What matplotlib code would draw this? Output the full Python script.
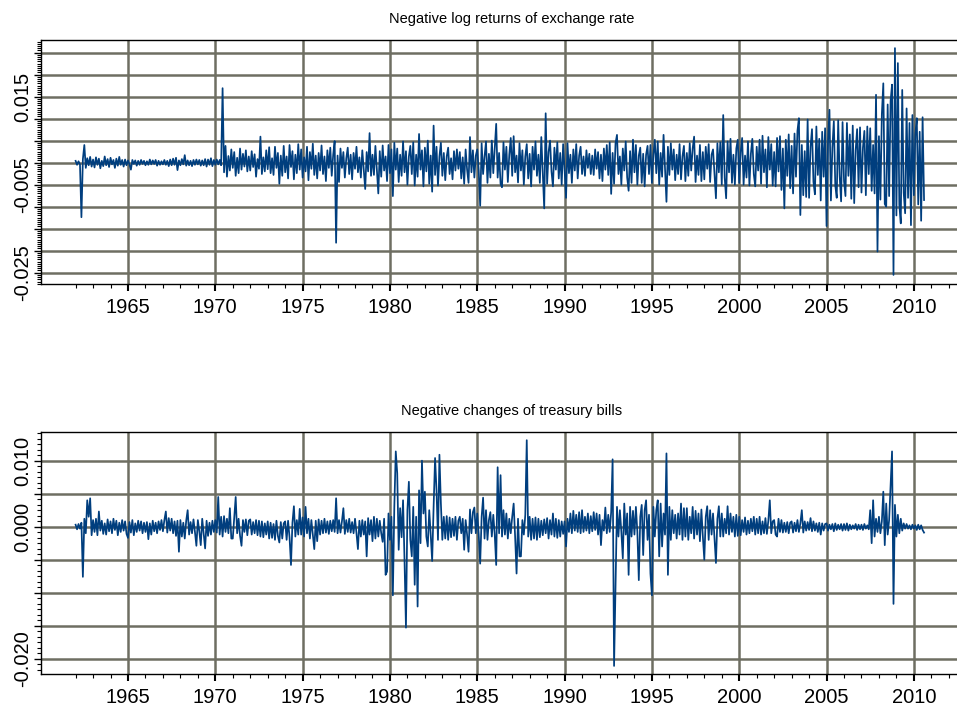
import matplotlib
matplotlib.use('Agg')

import matplotlib.pyplot as plt
import numpy as np
from matplotlib.ticker import FixedLocator, FuncFormatter, AutoMinorLocator

# Monthly series starting January 1962, values in units of 1e-3
START_YEAR = 1962.0
STEP = 1.0 / 12

fx_1962_1969 = [
    0.4, -0.5, 0.3, -0.4, -12.4, 0.8, 4.0, -1.2, 1.0, -0.6, 1.3, -0.9,
    0.7, -1.1, 1.2, -0.5, 0.9, -1.3, 0.4, -0.8, 1.4, -0.6, 0.8, -1.0,
    1.1, -0.4, 0.6, -1.2, 0.9, -0.7, 1.3, -0.5, 0.6, -0.9, 0.7, -0.6,
    0.5, -0.4, -1.6, 0.6, -0.3, 0.5, -0.7, 0.4, -0.5, 0.6, -0.3, 0.4,
    -0.6, 0.3, -0.5, 0.7, -0.4, 0.5, -0.3, 0.6, -0.7, 0.4, -0.5, 0.3,
    -0.4, 0.6, -0.5, 0.4, -0.8, 0.7, -0.6, 0.9, -0.5, 1.1, -1.7, 0.5,
    -0.6, 0.8, -0.4, 1.7, -0.7, 0.5, -0.6, 0.4, -0.8, 0.6, -0.5, 0.7,
    -0.4, 0.6, -0.7, 0.5, -0.6, 0.8, -0.9, 0.7, -0.5, 1.0, -0.8, 0.6,
]
fx_1970s = [
    -0.5, 0.7, -0.4, 0.6, -0.6, 16.9, -2.2, 3.8, -3.2, 1.5, -1.8, 3.0,
    -1.2, 2.4, -3.0, 1.1, -2.4, 3.2, -1.6, 2.0, -0.9, 2.8, -2.0, 1.4,
    -1.8, 2.6, -1.0, 1.9, -3.2, 0.8, -1.4, 5.9, -2.6, 1.2, -2.0, 2.8,
    -1.5, 3.5, -2.4, 1.0, -2.8, 3.6, -1.2, 2.2, -4.8, 1.6, -3.0, 3.8,
    -2.2, 1.4, -3.6, 4.0, -1.0, 2.6, -3.8, 1.8, -2.4, 4.2, -1.6, 3.0,
    -3.4, 1.2, -2.0, 3.6, -4.0, 2.4, -1.4, 4.3, -2.8, 1.6, -3.6, 2.2,
    -1.8, 3.9, -2.6, 1.4, -4.2, 2.8, -1.2, 3.4, -3.0, 1.8, 4.9, -18.2,
    1.6, -4.4, 3.2, -1.2, 2.4, -3.4, 1.0, 3.4, -2.6, 1.8, -3.8, 2.2,
    -1.4, 3.6, -2.2, 1.2, -3.4, 2.8, -1.6, -6.0, 2.4, -2.0, 6.7, -3.0,
    1.8, -2.8, 3.8, -1.6, -7.0, 2.6, -3.2, 3.9, -1.8, 1.4, -4.2, 4.0,
]
fx_1980s = [
    -2.4, 3.0, -7.6, 4.5, -1.6, 3.2, -4.4, 1.8, -3.0, 4.8, -2.2, 2.6,
    -5.0, 1.4, 3.8, -2.6, 4.6, -5.2, 1.8, -3.2, 6.5, -1.6, 2.8, -5.4,
    3.4, -2.0, 5.0, -4.8, 1.6, -6.6, 8.4, -2.8, 3.6, -5.2, 1.4, 4.5,
    -3.0, 2.2, -4.0, 1.4, 3.4, -2.6, 1.0, -3.8, 2.6, -1.8, 3.0, -1.4,
    2.4, -3.6, 1.2, -4.8, 3.0, -1.6, -4.6, 5.8, -2.2, 2.8, -3.4, 1.6,
    3.0, -1.8, -9.8, 4.4, -2.6, 1.4, 4.8, -4.6, 2.0, -3.4, 5.0, -2.4,
    3.2, 8.8, -3.4, 2.2, -4.8, -5.6, 4.6, -1.6, 3.6, -4.4, 1.8, 5.6,
    -3.0, 6.0, -2.2, 1.6, -4.5, 4.4, -1.8, 2.8, -5.0, 1.4, 4.2, -3.6,
    2.0, -5.4, 3.6, -1.6, 4.8, -3.0, 1.8, -4.6, 5.8, -2.4, -10.4, 11.2,
    -4.8, 2.4, 5.0, -2.0, -5.4, 3.4, -1.6, 4.6, -3.6, 2.2, -5.0, 4.2,
]
fx_1990s = [
    -1.6, -8.0, 4.4, -2.4, 1.8, -4.6, 3.0, -1.8, 4.2, -3.6, 1.6, 3.6,
    -2.6, 1.4, -3.0, 2.8, -1.2, 2.0, -2.6, 1.6, -2.8, 3.0, -1.4, 2.4,
    -3.6, 1.8, -4.2, 3.2, -1.6, 4.0, -2.8, 4.6, -7.1, 2.2, -4.8, 4.4,
    6.3, -2.6, 1.4, -5.0, 3.2, -1.8, 4.8, -3.4, -6.4, 2.6, -4.6, 5.2,
    -2.2, 4.0, -5.0, 1.6, 3.4, -4.6, 2.0, -5.4, 1.8, 3.8, -2.6, 4.0,
    -4.6, 1.8, 5.2, -2.4, 4.8, -5.0, 2.2, -3.2, 6.3, -1.4, -8.9, 3.6,
    -2.8, 4.4, -1.6, 3.0, -4.0, 1.8, -2.6, 4.2, -3.8, 1.4, 3.8, -4.2,
    2.2, -3.0, 4.4, -1.8, 3.2, 5.9, -4.4, 1.6, -2.8, 4.0, -4.2, 2.4,
    -3.8, 3.6, -1.4, 4.2, -4.4, 1.8, 3.0, -2.6, -8.1, 4.4, -2.2, 4.6,
    -5.0, 10.8, -3.4, -8.1, 4.8, -2.2, 5.4, -4.6, 1.8, -5.0, 3.2, 5.2,
]
fx_2000_2010 = [
    -4.6, 2.4, 5.6, -5.0, 1.6, -3.4, 4.8, -5.2, 2.0, 5.4, -2.6, -5.4,
    3.6, -1.8, 5.2, -4.8, 6.1, -2.2, 3.0, -5.6, 5.8, -1.6, 4.2, -5.2,
    2.4, -5.4, 5.6, -2.0, 6.0, -6.2, 3.2, -10.4, 5.2, -3.0, 6.4, -5.8,
    3.8, -7.0, 6.6, -3.2, 7.2, 10.1, -11.9, 4.0, -7.4, 2.6, -7.8, 9.8,
    -8.0, 3.6, 7.6, -4.4, -7.2, 8.2, -2.8, 5.4, -8.6, 7.0, -3.2, 7.8,
    -14.4, 4.6, 12.0, -8.6, 3.4, 9.4, -5.2, -8.0, 9.6, -3.0, -8.8, 9.2,
    -4.2, -7.6, 9.0, -3.0, 6.4, -8.2, 8.4, -9.2, 2.8, 7.6, -5.6, 8.0,
    -6.8, 3.4, 7.2, -7.4, 8.2, -2.6, 7.8, -6.4, 4.0, -7.0, 15.4, -20.2,
    6.0, -8.4, 11.0, 18.0, -9.4, -10.0, 13.2, -7.6, 14.0, 17.7, -25.5, 26.0,
    -12.0, 22.6, -9.6, -13.8, 16.5, -6.8, -11.5, 12.3, -8.0, 9.0, -14.2, 10.8,
    -7.4, 6.4, 10.1, -9.5, 7.0, -13.2, 10.3, -8.5,
]

tb_1962_1969 = [
    0.3, -0.4, 0.4, -0.3, 0.6, -7.6, 1.2, -1.0, 4.0, 1.5, 4.3, -1.3,
    1.0, -0.8, 1.2, -1.3, 2.3, -0.6, 0.9, -1.1, 0.5, -1.2, 1.1, -0.7,
    0.8, -1.0, 1.2, -0.5, 0.9, -1.3, 0.6, -0.8, 1.0, -0.6, 0.8, -1.1,
    -1.7, 0.7, -0.9, 1.0, -1.3, 0.5, -0.8, 0.9, -0.6, 0.8, -1.0, 0.6,
    -0.8, 0.7, -1.9, 0.5, -1.2, 0.9, -0.7, 0.6, -1.0, 0.8, -0.5, 1.0,
    -0.7, 1.0, 2.3, -0.9, 1.3, -0.6, 1.2, -1.0, 0.8, -1.4, 0.9, -3.8,
    1.0, -1.5, 0.6, -1.8, 0.9, 2.5, -1.2, 0.7, -1.0, 1.1, -0.8, -2.9,
    1.0, -0.7, -2.8, 1.2, -1.0, -3.3, 0.9, -1.4, 0.6, -1.2, 0.9, -0.8,
]
tb_1970s = [
    1.0, -0.9, 4.5, -1.2, 1.5, -1.5, 1.6, -0.8, 1.2, -1.0, 2.8, -1.8,
    -1.8, 1.4, 4.5, -1.0, 1.2, -1.4, -2.9, 1.0, -0.8, 1.1, -1.3, 0.9,
    1.1, -1.2, 0.7, -1.0, 1.0, -1.3, 0.9, -1.5, 0.8, -1.6, 0.5, -1.2,
    0.8, -1.8, 0.6, -1.7, 0.4, -2.0, 0.9, -1.4, -2.4, 0.7, -1.8, 0.5,
    0.8, -2.0, 0.9, -1.6, -5.8, 0.6, 3.1, -1.5, 1.0, -1.2, 2.7, -1.2,
    1.4, -1.5, 3.0, -1.0, 1.2, -1.8, 1.0, -1.2, -3.4, 0.9, -2.2, 1.1,
    -1.2, 0.9, -1.0, 1.2, -0.9, 0.8, -1.1, 0.9, -0.7, 1.0, -0.8, 4.3,
    -1.0, 1.0, -0.9, 0.8, 2.8, -1.1, 1.0, -0.8, 1.2, -0.9, 0.7, -1.0,
    1.2, -1.0, -3.4, 0.9, -1.5, 1.0, -1.2, 0.8, -4.5, 1.3, -1.2, 1.0,
    -2.2, 1.5, -1.8, 1.2, -1.5, 0.9, -1.0, -2.3, 1.2, -7.3, -6.8, 2.0,
]
tb_1980s = [
    -2.0, 1.5, -10.4, 3.0, 11.4, 8.1, -3.5, 2.8, -1.6, 4.0, -5.0, -15.3,
    2.5, 6.8, -2.0, -4.5, 3.0, -8.8, 1.5, -12.1, 5.5, -2.5, 10.0, 2.0,
    5.3, -1.5, -3.0, 2.5, -1.2, -5.2, 3.0, 10.4, 5.5, -2.0, 10.9, 3.5,
    -2.0, 1.5, -1.8, 1.6, -2.0, 1.4, -1.6, 1.2, -1.4, 1.5, -2.0, 0.9,
    1.5, -1.0, 1.2, -3.5, 1.0, -1.2, -3.8, 2.6, -1.0, 2.2, 2.9, -1.0,
    2.0, -1.2, -5.6, 1.5, 4.4, -1.8, 2.5, -2.0, 1.0, 2.2, -1.5, 1.8,
    -1.2, -5.8, 9.0, -1.0, 7.8, -1.5, 2.5, -1.2, 2.0, -1.8, 1.2, -1.0,
    1.5, 3.5, -1.5, -7.1, 1.2, -4.5, -4.5, 1.0, -1.2, 1.8, 13.1, -1.5,
    1.5, -2.0, 1.2, -1.8, 1.4, -2.0, 1.2, -1.6, 0.9, -1.3, 1.1, -1.0,
    1.3, -1.8, 1.0, -1.2, 2.0, -1.5, 1.2, -1.7, 1.0, -1.5, 0.8, -1.1,
]
tb_1990s = [
    0.8, -3.0, 1.2, -0.8, 2.0, -1.0, 2.4, -0.6, 1.8, -0.8, 2.2, -1.0,
    2.5, -0.8, 1.5, -0.6, 2.0, -1.0, 1.6, -0.7, 2.2, -0.5, 2.0, -1.2,
    1.8, -2.8, 1.0, -0.6, 2.9, -1.0, 1.8, -0.8, 2.2, 10.2, -21.1, -9.1,
    3.0, -1.5, 2.5, -0.8, -4.8, 3.5, -1.2, 2.0, -7.3, 3.0, -1.5, 2.4,
    -1.2, 3.0, -0.8, -8.1, 1.5, 3.3, -4.3, 2.5, 4.0, -2.0, 1.8, -7.1,
    -10.4, 3.0, -1.5, 2.5, 4.0, -4.5, 3.5, -3.0, 2.0, -1.2, 11.1, -7.3,
    3.0, -2.0, 2.5, -1.0, 1.8, -1.8, 2.0, -1.2, 3.5, -2.0, 2.8, -1.5,
    2.8, -2.0, 1.5, -1.0, 3.0, -1.8, 2.4, -1.2, 2.0, -2.2, 2.6, -1.5,
    -5.0, 1.5, 3.1, -2.0, 2.5, -1.2, 2.0, -1.8, -5.5, 1.2, 3.1, -1.5,
    2.0, -1.5, 1.2, -1.0, 3.1, -1.2, 2.0, -0.8, 1.5, -1.5, 1.8, -1.4,
]
tb_2000_2010 = [
    1.5, -1.3, 1.0, -0.8, 1.4, -1.2, 0.9, -1.0, 1.2, -0.7, 1.5, -1.2,
    1.2, -1.0, 1.5, -1.2, 0.8, -1.0, 1.3, -1.1, 0.9, 4.0, -1.0, 0.8,
    1.0, -1.2, -1.5, 1.2, -0.8, 1.0, -0.9, 0.6, -0.8, 0.7, -1.0, 0.6,
    0.8, -0.9, 0.6, -0.7, 1.0, -0.8, 0.5, 2.5, -0.9, 0.8, -0.6, 0.7,
    -0.5, 1.3, -0.7, 0.8, -0.6, 0.5, -0.8, 0.6, -1.2, 0.5, -0.6, 0.4,
    0.5, -0.6, 0.3, -0.4, 0.4, -0.7, 0.5, -0.5, 0.3, -0.4, 0.4, -0.6,
    0.4, -0.5, 0.5, -0.6, 0.3, -0.4, 0.2, -0.3, 0.4, -0.5, 0.3, -0.4,
    0.3, -0.5, 0.4, -0.3, 0.2, -0.4, 2.5, -2.5, 4.0, -1.5, 1.2, -0.8,
    1.5, -1.0, 0.8, 5.3, -2.8, 3.5, -1.2, 1.0, 6.1, 11.4, -11.7, 3.3,
    -1.5, 1.8, -1.0, 1.2, -0.6, 0.5, -0.3, 0.4, -0.3, 0.2, -0.4, 0.3,
    -0.3, 0.2, -0.5, 0.3, -0.4, 0.2, -0.5, -0.9,
]

fx_labels = [0.015, -0.005, -0.025]
tb_labels = [0.010, 0.000, -0.020]

LINE_COLOR = '#003e7e'
GRID_COLOR = '#6e6e62'

plt.rcParams['font.family'] = ['Liberation Sans', 'DejaVu Sans']


def draw_panel(fig, rect, values, ylim, labelled, n_minor, title):
    """One time-series panel in the old S-Plus graph sheet look"""
    ax = fig.add_axes(rect)
    vals = np.asarray(values) * 1e-3
    t = START_YEAR + STEP * np.arange(len(vals))
    ax.plot(t, vals, color=LINE_COLOR, lw=1.25, zorder=3)

    ax.set_xlim(1960.0, 2013.9)
    ax.set_ylim(*ylim)
    ax.spines['right'].set_visible(False)
    for side in ('left', 'top', 'bottom'):
        ax.spines[side].set_linewidth(1.0)

    # y: grid every 0.005 with dense minor ticks, only some values labelled
    yt = [v for v in np.round(np.arange(-0.03, 0.0301, 0.005), 3) if ylim[0] <= v <= ylim[1]]
    ax.yaxis.set_major_locator(FixedLocator(yt))
    ax.yaxis.set_minor_locator(AutoMinorLocator(n_minor))

    def yfmt(v, pos):
        v = round(v, 3) + 0.0
        if any(abs(v - l) < 1e-9 for l in labelled):
            return f'{v:.3f}'
        return ''
    ax.yaxis.set_major_formatter(FuncFormatter(yfmt))

    # x: gridded five-year marks, small tick every year
    ax.xaxis.set_major_locator(FixedLocator(np.arange(1965, 2011, 5)))
    ax.xaxis.set_minor_locator(FixedLocator(np.arange(1962, 2014)))
    ax.xaxis.set_major_formatter(FuncFormatter(lambda v, p: f'{int(round(v))}'))

    ax.tick_params(axis='y', which='major', length=5, width=1, pad=1,
                   labelsize=14.5, labelrotation=90)
    ax.tick_params(axis='y', which='minor', length=3, width=0.8)
    ax.tick_params(axis='x', which='major', length=5, width=1.5, pad=5, labelsize=14.5)
    ax.tick_params(axis='x', which='minor', length=3, width=0.8)
    for lbl in ax.get_yticklabels():
        lbl.set_verticalalignment('center')

    ax.grid(True, which='major', color=GRID_COLOR, lw=1.8, zorder=1)
    ax.set_axisbelow(True)
    ax.set_title(title, fontsize=10.5, pad=12)
    return ax


fig = plt.figure(figsize=(9.57, 7.12), dpi=100)

fx = fx_1962_1969 + fx_1970s + fx_1980s + fx_1990s + fx_2000_2010
tb = tb_1962_1969 + tb_1970s + tb_1980s + tb_1990s + tb_2000_2010

draw_panel(fig, [0.0425, 0.6011, 0.9836, 0.3427], fx, (-0.02757, 0.02784),
           fx_labels, 10, 'Negative log returns of exchange rate')
draw_panel(fig, [0.0425, 0.0534, 0.9836, 0.3403], tb, (-0.02232, 0.01439),
           tb_labels, 6, 'Negative changes of treasury bills')

fig.savefig('out.png', dpi=100)
